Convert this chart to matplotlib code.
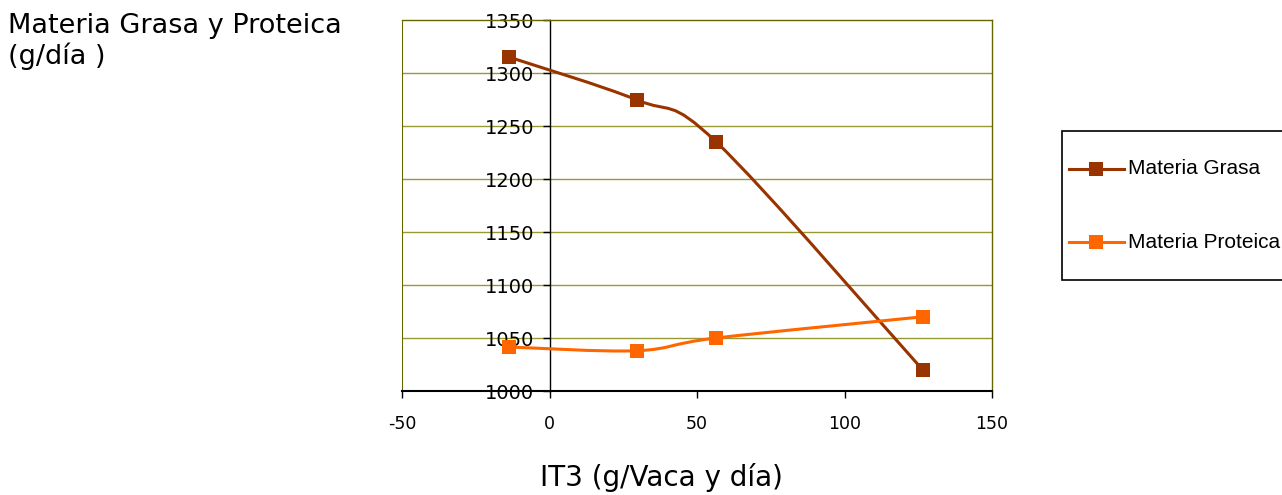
import matplotlib
matplotlib.use("Agg")
import matplotlib.pyplot as plt
from matplotlib.path import Path
from matplotlib.patches import PathPatch, Rectangle
from matplotlib.lines import Line2D
import numpy as np

plt.rcParams['axes.unicode_minus'] = False

# ---- data ----
it3 = [-13.7, 29.7, 56.5, 126.5]
materia_grasa = [1315, 1274.5, 1235, 1020]
materia_proteica = [1041.5, 1038, 1050, 1070]
series_names = ["Materia Grasa", "Materia Proteica"]
series_colors = ["#993300", "#FF6600"]
xticks = [-50, 0, 50, 100, 150]
xtick_labels = ["-50", "0", "50", "100", "150"]
yticks = [1000, 1050, 1100, 1150, 1200, 1250, 1300, 1350]
ytick_labels = ["1000", "1050", "1100", "1150", "1200", "1250", "1300", "1350"]

W, H = 1282, 495
fig = plt.figure(figsize=(W / 100, H / 100), dpi=100)
ax = fig.add_axes([402 / W, 1 - 391 / H, (992 - 402) / W, (391 - 20) / H])
ax.set_xlim(-50, 150)
ax.set_ylim(1000, 1350)


def smooth_path(xs, ys):
    pts = np.column_stack([xs, ys]).astype(float)
    n = len(pts)
    verts = [pts[0]]
    codes = [Path.MOVETO]
    for i in range(n - 1):
        p0 = pts[i - 1] if i > 0 else pts[i]
        p1 = pts[i]
        p2 = pts[i + 1]
        p3 = pts[i + 2] if i + 2 < n else pts[i + 1]
        c1 = p1 + (p2 - p0) / 6.0
        c2 = p2 - (p3 - p1) / 6.0
        verts += [c1, c2, p2]
        codes += [Path.CURVE4] * 3
    return Path(verts, codes)


# grid
for yv in yticks[1:-1]:
    ax.axhline(yv, color="#999933", lw=1.0, zorder=1)

for ys, col in zip([materia_grasa, materia_proteica], series_colors):
    patch = PathPatch(smooth_path(it3, ys), facecolor="none", edgecolor=col,
                      lw=2.2, zorder=3, capstyle="round", joinstyle="round")
    ax.add_patch(patch)
    ax.plot(it3, ys, ls="none", marker="s", markersize=10, color=col,
            markeredgewidth=0, zorder=4)

# spines
for s in ["top", "right"]:
    ax.spines[s].set_color("#666600")
    ax.spines[s].set_linewidth(1.0)
ax.spines["left"].set_position(("data", 0))
ax.spines["left"].set_color("black")
ax.spines["left"].set_linewidth(1.0)
ax.spines["bottom"].set_color("black")
ax.spines["bottom"].set_linewidth(1.5)
ax.axvline(-50, color="#666600", lw=1.5, zorder=2)

ax.set_xticks(xticks)
ax.set_xticklabels(xtick_labels, fontsize=12.5, family="DejaVu Sans")
ax.set_yticks(yticks)
ax.set_yticklabels(ytick_labels, fontsize=14, family="DejaVu Sans")
ax.tick_params(axis="x", direction="out", length=5, width=1, pad=12)
ax.tick_params(axis="y", direction="out", length=5, width=1, pad=6)

# titles
fig.text(8 / W, 1 - 33 / H, "Materia Grasa y Proteica", fontsize=19.5,
         family="DejaVu Sans", va="baseline", ha="left")
fig.text(8 / W, 1 - 64 / H, "(g/día )", fontsize=19.5,
         family="DejaVu Sans", va="baseline", ha="left")
fig.text(661 / W, 1 - 486 / H, "IT3 (g/Vaca y día)", fontsize=20,
         family="DejaVu Sans", va="baseline", ha="center")

# legend (manual)
rect = Rectangle((1062 / W, 1 - 280 / H), (1300 - 1062) / W, (280 - 131) / H,
                 transform=fig.transFigure, facecolor="white",
                 edgecolor="black", lw=1.2, clip_on=False)
fig.add_artist(rect)
for name, col, yc in zip(series_names, series_colors, [169, 242]):
    yf = 1 - yc / H
    fig.add_artist(Line2D([1069 / W, 1124 / W], [yf, yf], color=col, lw=2.2,
                          transform=fig.transFigure))
    fig.add_artist(Line2D([1096 / W], [yf], color=col, marker="s",
                          markersize=10, markeredgewidth=0, ls="none",
                          transform=fig.transFigure))
    fig.text(1128 / W, yf, name, fontsize=15, family="Liberation Sans",
             va="center", ha="left")

fig.savefig("out.png", dpi=100)
